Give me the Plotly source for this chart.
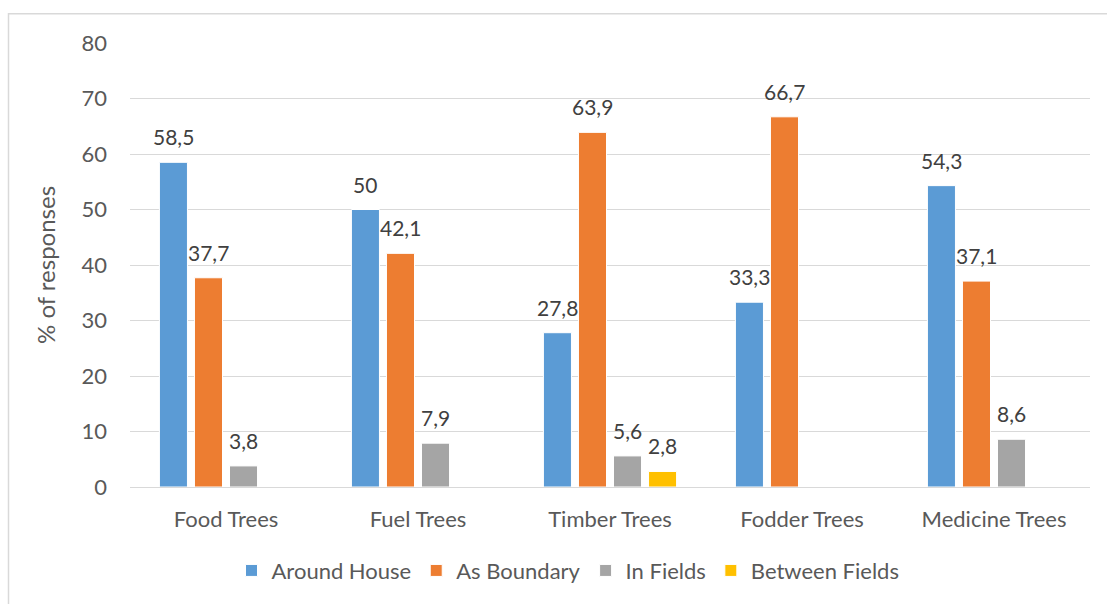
import plotly.graph_objects as go

# Tree categories and the share of responses for each planting location
categories = ["Food Trees", "Fuel Trees", "Timber Trees", "Fodder Trees", "Medicine Trees"]
around_house = [58.5, 50, 27.8, 33.3, 54.3]
as_boundary = [37.7, 42.1, 63.9, 66.7, 37.1]
in_fields = [3.8, 7.9, 5.6, None, 8.6]
between_fields = [None, None, 2.8, None, None]

y_ticks = [0, 10, 20, 30, 40, 50, 60, 70, 80]

series = [
    ("Around House", around_house, "#5B9BD5"),
    ("As Boundary", as_boundary, "#ED7D31"),
    ("In Fields", in_fields, "#A5A5A5"),
    ("Between Fields", between_fields, "#FFC000"),
]

FONT = "Lato, 'Open Sans', sans-serif"
TEXT_COLOR = "#595959"
LABEL_COLOR = "#404040"
TICK_FS = 22
LABEL_FS = 21

# plot area spans x 130..1090 and y 43..489 in a 1107x604 page
L, R, T, B = 130, 17, 43, 115
W, H = 1107, 604
pw, ph = W - L - R, H - T - B
BARGAP = 0.27
BARGROUPGAP = 0.2

def px_x(px):
    return (px - L) / pw

def px_y(py):
    return (H - B - py) / ph

def fmt(v):
    return f"{v:g}".replace(".", ",")

fig = go.Figure()
annotations = []
slot = pw / len(categories) * (1 - BARGAP) / len(series)
for i, (name, values, color) in enumerate(series):
    fig.add_trace(go.Bar(
        name=name,
        x=categories,
        y=values,
        marker=dict(color=color, line=dict(color="white", width=1)),
    ))
    # value labels sit a little above each bar, centred on its slot
    for cat, v in zip(categories, values):
        if v is None:
            continue
        annotations.append(dict(
            x=cat,
            y=v,
            xref="x",
            yref="y",
            text=fmt(v),
            showarrow=False,
            xanchor="center",
            yanchor="bottom",
            xshift=(i - (len(series) - 1) / 2) * slot,
            yshift=11,
            font=dict(family=FONT, size=LABEL_FS, color=LABEL_COLOR),
        ))

annotations.append(dict(
    text="% of responses",
    xref="paper",
    yref="paper",
    x=px_x(45),
    y=px_y(266),
    xanchor="center",
    yanchor="middle",
    textangle=-90,
    showarrow=False,
    font=dict(family=FONT, size=24, color=TEXT_COLOR),
))

fig.update_layout(
    width=W,
    height=H,
    margin=dict(l=L, r=R, t=T, b=B),
    paper_bgcolor="white",
    plot_bgcolor="white",
    barmode="group",
    bargap=BARGAP,
    bargroupgap=BARGROUPGAP,
    font=dict(family=FONT, size=TICK_FS, color=TEXT_COLOR),
    showlegend=True,
    legend=dict(
        orientation="h",
        x=px_x(568),
        xanchor="center",
        y=px_y(573),
        yanchor="middle",
        font=dict(family=FONT, size=TICK_FS, color=TEXT_COLOR),
        itemwidth=30,
        tracegroupgap=0,
    ),
    xaxis=dict(
        showgrid=False,
        showline=False,
        ticks="",
        ticklabelstandoff=17,
        tickfont=dict(family=FONT, size=TICK_FS, color=TEXT_COLOR),
    ),
    yaxis=dict(
        range=[0, 80],
        tickvals=y_ticks,
        showgrid=True,
        gridcolor="#D9D9D9",
        gridwidth=1,
        zeroline=True,
        zerolinecolor="#D9D9D9",
        zerolinewidth=1,
        showline=False,
        ticks="",
        ticklabelstandoff=22,
        tickfont=dict(family=FONT, size=TICK_FS, color=TEXT_COLOR),
    ),
    annotations=annotations,
    shapes=[
        dict(
            type="rect",
            xref="paper",
            yref="paper",
            x0=px_x(8.5),
            x1=px_x(1112),
            y0=px_y(610),
            y1=px_y(13.5),
            line=dict(color="#D9D9D9", width=1.5),
            fillcolor="rgba(0,0,0,0)",
            layer="below",
        )
    ],
)

fig.write_html("out.html")
